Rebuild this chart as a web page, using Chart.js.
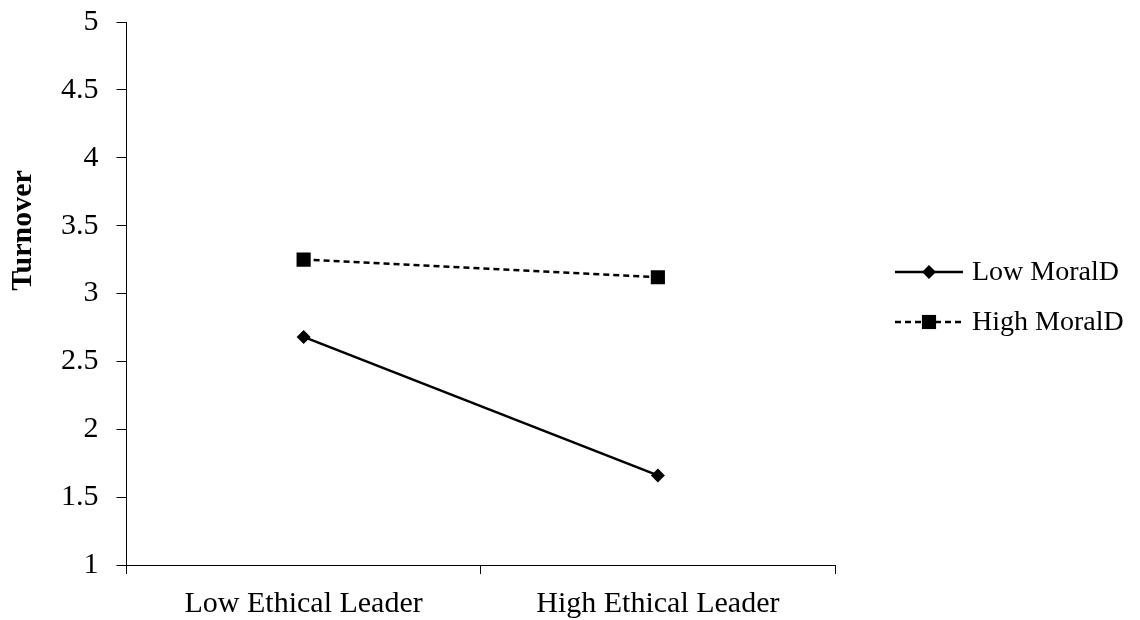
<!DOCTYPE html>
<html>
<head>
<meta charset="utf-8">
<script src="https://cdn.jsdelivr.net/npm/chart.js@4/dist/chart.umd.min.js"></script>
<style>
  html, body { margin: 0; padding: 0; background: #fff; }
  #wrap { width: 1140px; height: 620px; }
</style>
</head>
<body>
<div id="wrap"><canvas id="turnoverChart" width="1140" height="620"></canvas></div>
<script>
const categories = ['Low Ethical Leader', 'High Ethical Leader'];
const lowMoralD = [2.68, 1.66];
const highMoralD = [3.25, 3.12];
const yTicks = [1, 1.5, 2, 2.5, 3, 3.5, 4, 4.5, 5];
const yTitle = 'Turnover';

const serif = '"Liberation Serif", "Times New Roman", serif';

// legend on the right: line with the marker in the middle, like Excel
const sideLegend = {
    id: 'sideLegend',
    afterDraw(chart) {
        const ctx = chart.ctx;
        const area = chart.chartArea;
        const x0 = area.right + 60;
        const y0 = area.top + 250;
        chart.data.datasets.forEach((ds, i) => {
            const y = y0 + i * 50;
            ctx.save();
            ctx.strokeStyle = ds.borderColor;
            ctx.lineWidth = ds.borderWidth;
            ctx.setLineDash(ds.borderDash || []);
            ctx.beginPath();
            ctx.moveTo(x0, y);
            ctx.lineTo(x0 + 68, y);
            ctx.stroke();
            ctx.setLineDash([]);
            ctx.fillStyle = ds.pointBackgroundColor;
            Chart.helpers.drawPoint(ctx, {
                pointStyle: ds.pointStyle,
                radius: ds.pointRadius,
                borderWidth: 0,
                rotation: 0
            }, x0 + 34, y);
            ctx.fillStyle = '#000';
            ctx.font = '28px ' + serif;
            ctx.textBaseline = 'middle';
            ctx.fillText(ds.label, x0 + 77, y + 1);
            ctx.restore();
        });
    }
};

// Excel puts the axis title a bit above the middle of the axis
const axisTitle = {
    id: 'axisTitle',
    afterDraw(chart) {
        const ctx = chart.ctx;
        const area = chart.chartArea;
        ctx.save();
        ctx.translate(23, area.top + area.height * 0.384);
        ctx.rotate(-Math.PI / 2);
        ctx.fillStyle = '#000';
        ctx.font = 'bold 30px ' + serif;
        ctx.textAlign = 'center';
        ctx.textBaseline = 'middle';
        ctx.fillText(yTitle, 0, 0);
        ctx.restore();
    }
};

const ctx = document.getElementById('turnoverChart').getContext('2d');

new Chart(ctx, {
    type: 'line',
    data: {
        labels: categories,
        datasets: [
            {
                label: 'Low MoralD',
                data: lowMoralD,
                borderColor: '#000',
                borderWidth: 2.5,
                pointStyle: 'rectRot',
                pointRadius: 7,
                pointBackgroundColor: '#000',
                pointBorderWidth: 0,
                fill: false
            },
            {
                label: 'High MoralD',
                data: highMoralD,
                borderColor: '#000',
                borderWidth: 2.5,
                borderDash: [6, 4],
                pointStyle: 'rect',
                pointRadius: 10,
                pointBackgroundColor: '#000',
                pointBorderWidth: 0,
                fill: false
            }
        ]
    },
    options: {
        responsive: false,
        animation: false,
        layout: {
            padding: { left: 43, right: 305, top: 22, bottom: -14 }
        },
        plugins: {
            legend: { display: false },
            tooltip: { enabled: false }
        },
        scales: {
            x: {
                offset: true,
                grid: {
                    offset: true,
                    drawOnChartArea: false,
                    drawTicks: true,
                    tickLength: 9,
                    color: '#000'
                },
                border: { color: '#000', width: 1 },
                ticks: {
                    color: '#000',
                    padding: 12,
                    font: { family: serif, size: 30 },
                    maxRotation: 0
                }
            },
            y: {
                min: 1,
                max: 5,
                afterBuildTicks(scale) {
                    scale.ticks = yTicks.map(v => ({ value: v }));
                },
                afterFit(scale) {
                    scale.paddingTop = 0;
                },
                grid: {
                    drawOnChartArea: false,
                    drawTicks: true,
                    tickLength: 10,
                    color: '#000'
                },
                border: { color: '#000', width: 1 },
                ticks: {
                    color: '#000',
                    padding: 18,
                    font: { family: serif, size: 30 },
                    callback: v => String(v)
                }
            }
        }
    },
    plugins: [sideLegend, axisTitle]
});
</script>
</body>
</html>
